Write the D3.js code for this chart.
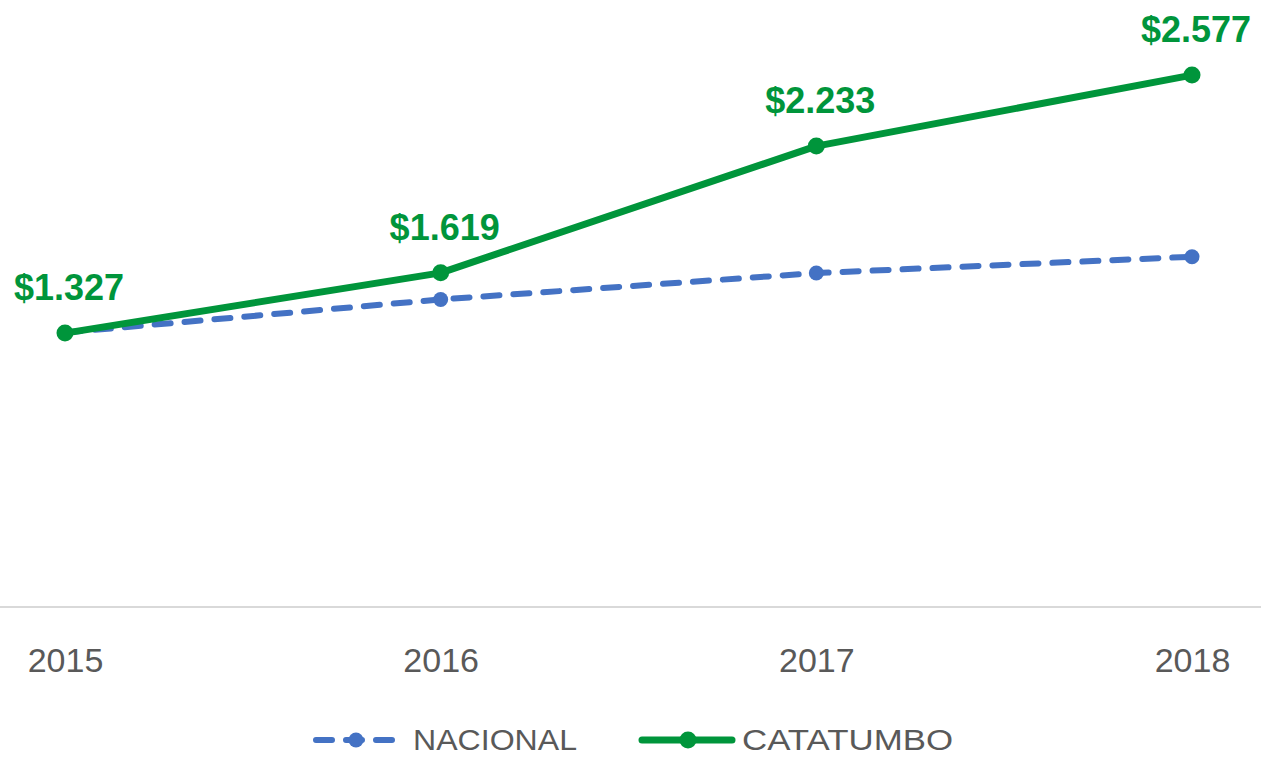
<!DOCTYPE html>
<html>
<head>
<meta charset="utf-8">
<script src="https://cdn.jsdelivr.net/npm/d3@7"></script>
<style>
  body { margin: 0; background: #fff; }
  text { font-family: "Liberation Sans", Arial, sans-serif; }
</style>
</head>
<body>
<script>
const years = ["2015", "2016", "2017", "2018"];
const nacional = [1330, 1490, 1618, 1697];
const catatumbo = [1327, 1619, 2233, 2577];
const seriesNames = ["NACIONAL", "CATATUMBO"];

const width = 1261,
    height = 757;

const blue = "#4472C4",
    green = "#00953B";

const svg = d3.select("body").append("svg")
    .attr("width", width)
    .attr("height", height);

const x = d3.scalePoint().domain(years).range([65, 1192]);
const y = d3.scaleLinear().domain([0, 3000]).range([607, 607 - 3000 * 0.2064]);

// baseline
svg.append("line")
    .attr("x1", 0).attr("x2", width)
    .attr("y1", y(0)).attr("y2", y(0))
    .attr("stroke", "#d9d9d9")
    .attr("stroke-width", 2);

const xAxis = svg.append("g")
    .attr("transform", `translate(0, ${y(0)})`)
    .call(d3.axisBottom(x).tickSize(0).tickPadding(41));
xAxis.select(".domain").remove();
xAxis.selectAll("text")
    .style("font-family", "'Liberation Sans', Arial, sans-serif")
    .style("font-size", "34px")
    .style("fill", "#595959");

const line = d3.line()
    .x((d, i) => x(years[i]))
    .y(d => y(d));

// nacional (dashed)
svg.append("path")
    .datum(nacional)
    .attr("d", line)
    .attr("fill", "none")
    .attr("stroke", blue)
    .attr("stroke-width", 6)
    .attr("stroke-linecap", "round")
    .attr("stroke-dasharray", "16 14");

svg.selectAll(".nac-pt")
    .data(nacional)
    .enter().append("circle")
    .attr("class", "nac-pt")
    .attr("cx", (d, i) => x(years[i]))
    .attr("cy", d => y(d))
    .attr("r", 7.5)
    .attr("fill", blue);

// catatumbo
svg.append("path")
    .datum(catatumbo)
    .attr("d", line)
    .attr("fill", "none")
    .attr("stroke", green)
    .attr("stroke-width", 7)
    .attr("stroke-linejoin", "round");

svg.selectAll(".cat-pt")
    .data(catatumbo)
    .enter().append("circle")
    .attr("class", "cat-pt")
    .attr("cx", (d, i) => x(years[i]))
    .attr("cy", d => y(d))
    .attr("r", 8.5)
    .attr("fill", green);

const fmt = d => "$" + d3.format(",")(d).replace(/,/g, ".");

svg.selectAll(".cat-lbl")
    .data(catatumbo)
    .enter().append("text")
    .attr("class", "cat-lbl")
    .attr("x", (d, i) => x(years[i]) + 4)
    .attr("y", d => y(d) - 33)
    .attr("text-anchor", "middle")
    .style("font-size", "36px")
    .style("font-weight", "bold")
    .style("fill", green)
    .text(fmt);

// legend
const legend = svg.append("g").attr("transform", "translate(0, 740)");

legend.append("line")
    .attr("x1", 316).attr("x2", 392)
    .attr("stroke", blue).attr("stroke-width", 6)
    .attr("stroke-linecap", "round")
    .attr("stroke-dasharray", "16 14");
legend.append("circle").attr("cx", 356).attr("r", 7.5).attr("fill", blue);
legend.append("text")
    .attr("x", 413).attr("y", 10)
    .attr("textLength", 164)
    .attr("lengthAdjust", "spacingAndGlyphs")
    .style("font-size", "30px")
    .style("fill", "#595959")
    .text(seriesNames[0]);

legend.append("line")
    .attr("x1", 642).attr("x2", 732)
    .attr("stroke", green).attr("stroke-width", 7)
    .attr("stroke-linecap", "round");
legend.append("circle").attr("cx", 688).attr("r", 8.5).attr("fill", green);
legend.append("text")
    .attr("x", 742).attr("y", 10)
    .attr("textLength", 211)
    .attr("lengthAdjust", "spacingAndGlyphs")
    .style("font-size", "30px")
    .style("fill", "#595959")
    .text(seriesNames[1]);
</script>
</body>
</html>
